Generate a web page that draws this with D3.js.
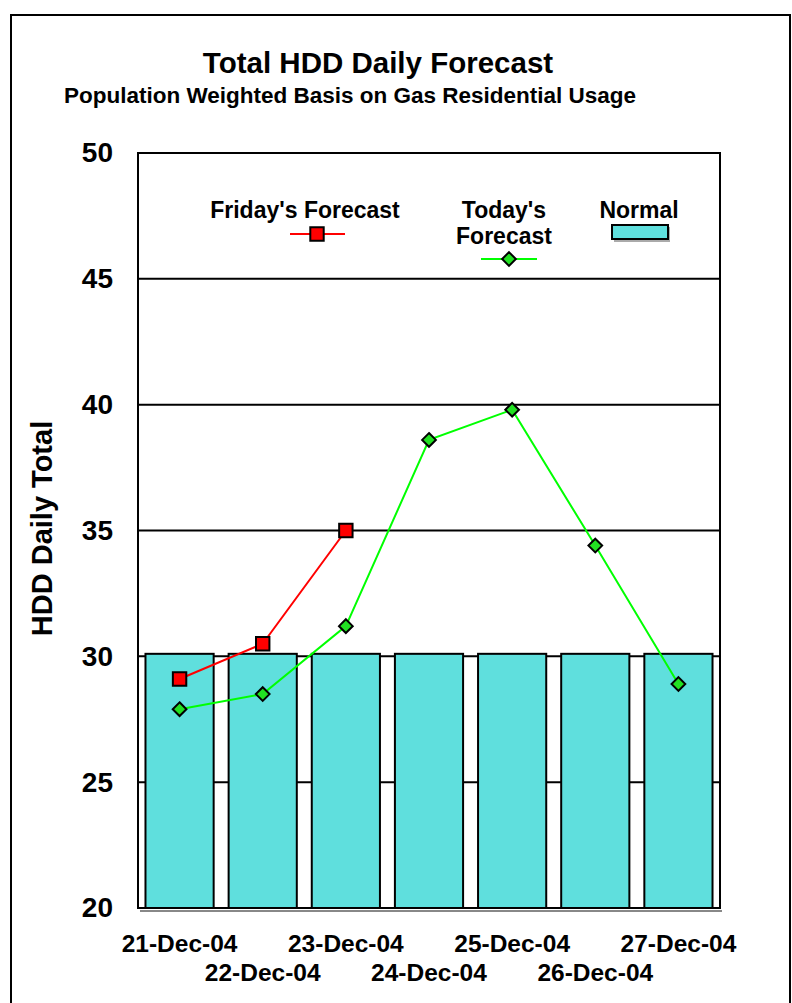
<!DOCTYPE html>
<html>
<head>
<meta charset="utf-8">
<script src="https://cdn.jsdelivr.net/npm/d3@7"></script>
<style>
  html, body { margin: 0; padding: 0; background: #fff; }
  svg { display: block; font-family: "Liberation Sans", Arial, sans-serif; font-weight: bold; }
</style>
</head>
<body>
<svg id="chart" width="792" height="1003"></svg>
<script>
// Daily HDD values, 21–27 December 2004
const dates = ["21-Dec-04", "22-Dec-04", "23-Dec-04", "24-Dec-04", "25-Dec-04", "26-Dec-04", "27-Dec-04"];
const normal = [30.1, 30.1, 30.1, 30.1, 30.1, 30.1, 30.1];
const fridayForecast = [29.1, 30.5, 35.0, null, null, null, null];
const todayForecast = [27.9, 28.5, 31.2, 38.6, 39.8, 34.4, 28.9];
const yTicks = [20, 25, 30, 35, 40, 45, 50];

const svg = d3.select("#chart");
const plot = { left: 138, right: 720, top: 153, bottom: 908 };

const x = d3.scaleBand().domain(dates)
  .range([plot.left, plot.right]).paddingInner(0.18).paddingOuter(0.09);
const y = d3.scaleLinear().domain([20, 50]).range([plot.bottom, plot.top]);

// Outer frame
svg.append("rect").attr("x", 11).attr("y", 15).attr("width", 779).attr("height", 1003)
  .attr("fill", "none").attr("stroke", "#000").attr("stroke-width", 2);

// Titles
svg.append("text").attr("x", 378).attr("y", 73).attr("text-anchor", "middle")
  .attr("font-size", 29.5).text("Total HDD Daily Forecast");
svg.append("text").attr("x", 350).attr("y", 103).attr("text-anchor", "middle")
  .attr("font-size", 22.5).text("Population Weighted Basis on Gas Residential Usage");

// Horizontal gridlines
svg.append("g").selectAll("line").data(yTicks.filter(t => t > 20 && t < 50)).join("line")
  .attr("x1", plot.left).attr("x2", plot.right)
  .attr("y1", d => y(d)).attr("y2", d => y(d))
  .attr("stroke", "#000").attr("stroke-width", 2);

// Y axis labels
const yAxis = d3.axisLeft(y).tickValues(yTicks).tickSize(0).tickPadding(25);
const yg = svg.append("g").attr("transform", `translate(${plot.left},0)`).call(yAxis);
yg.select(".domain").remove();
yg.selectAll("text").attr("font-size", 28).attr("font-weight", "bold")
  .attr("font-family", "Liberation Sans, Arial, sans-serif").attr("fill", "#000");

svg.append("text")
  .attr("transform", `translate(52,${(plot.top + plot.bottom) / 2 - 2}) rotate(-90)`)
  .attr("text-anchor", "middle").attr("font-size", 29).text("HDD Daily Total");

// Normal bars
svg.append("g").selectAll("rect").data(dates).join("rect")
  .attr("x", d => x(d)).attr("width", x.bandwidth())
  .attr("y", (d, i) => y(normal[i])).attr("height", (d, i) => y(20) - y(normal[i]))
  .attr("fill", "#5fdfdd").attr("stroke", "#000").attr("stroke-width", 2);

// Plot frame with drop shadow along the base
svg.append("line").attr("x1", plot.left + 2).attr("x2", plot.right + 2)
  .attr("y1", plot.bottom + 3).attr("y2", plot.bottom + 3)
  .attr("stroke", "#888").attr("stroke-width", 2);
svg.append("rect").attr("x", plot.left).attr("y", plot.top)
  .attr("width", plot.right - plot.left).attr("height", plot.bottom - plot.top)
  .attr("fill", "none").attr("stroke", "#000").attr("stroke-width", 2);

// Forecast lines
const cx = d => x(d) + x.bandwidth() / 2;
const lineGen = vals => d3.line()
  .defined((d, i) => vals[i] != null)
  .x(d => cx(d)).y((d, i) => y(vals[i]))(dates);

svg.append("path").attr("d", lineGen(fridayForecast))
  .attr("fill", "none").attr("stroke", "#ff0000").attr("stroke-width", 2);
svg.append("path").attr("d", lineGen(todayForecast))
  .attr("fill", "none").attr("stroke", "#00ff00").attr("stroke-width", 2);

const squareSym = d3.symbol().type(d3.symbolSquare).size(180);
const diamondSym = d3.symbol().type(d3.symbolDiamond2).size(120);

svg.append("g").selectAll("path").data(dates.filter((d, i) => fridayForecast[i] != null)).join("path")
  .attr("transform", (d) => `translate(${cx(d)},${y(fridayForecast[dates.indexOf(d)])})`)
  .attr("d", squareSym).attr("fill", "#ff0000").attr("stroke", "#000").attr("stroke-width", 2);

svg.append("g").selectAll("path").data(dates).join("path")
  .attr("transform", (d, i) => `translate(${cx(d)},${y(todayForecast[i])})`)
  .attr("d", diamondSym).attr("fill", "#22e022").attr("stroke", "#000").attr("stroke-width", 2);

// X axis labels in two staggered rows
svg.append("g").selectAll("text").data(dates).join("text")
  .attr("x", d => cx(d)).attr("y", (d, i) => i % 2 === 0 ? 952 : 981)
  .attr("text-anchor", "middle").attr("font-size", 24.5).text(d => d);

// Legend
const lg = svg.append("g").attr("font-size", 23).attr("text-anchor", "middle");
lg.append("text").attr("x", 305).attr("y", 218).text("Friday's Forecast");
lg.append("line").attr("x1", 290).attr("x2", 345).attr("y1", 234).attr("y2", 234)
  .attr("stroke", "#ff0000").attr("stroke-width", 2);
lg.append("path").attr("transform", "translate(317,234)").attr("d", squareSym)
  .attr("fill", "#ff0000").attr("stroke", "#000").attr("stroke-width", 2);

lg.append("text").attr("x", 504).attr("y", 218).text("Today's");
lg.append("text").attr("x", 504).attr("y", 244).text("Forecast");
lg.append("line").attr("x1", 481).attr("x2", 537).attr("y1", 259).attr("y2", 259)
  .attr("stroke", "#00ff00").attr("stroke-width", 2);
lg.append("path").attr("transform", "translate(509,259)").attr("d", diamondSym)
  .attr("fill", "#22e022").attr("stroke", "#000").attr("stroke-width", 2);

lg.append("text").attr("x", 639).attr("y", 218).text("Normal");
lg.append("rect").attr("x", 614).attr("y", 227).attr("width", 56).attr("height", 15).attr("fill", "#aaa");
lg.append("rect").attr("x", 612).attr("y", 225).attr("width", 56).attr("height", 14)
  .attr("fill", "#5fdfdd").attr("stroke", "#000").attr("stroke-width", 2);
</script>
</body>
</html>
